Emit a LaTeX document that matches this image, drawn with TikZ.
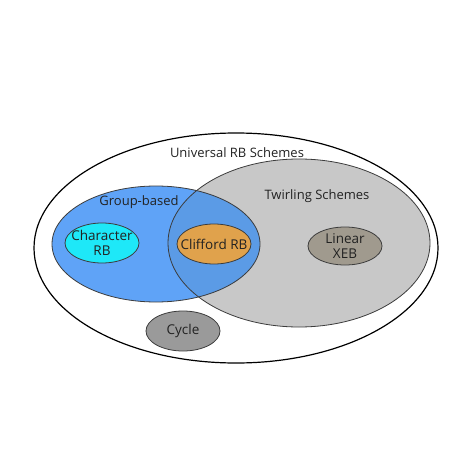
\documentclass[tikz,border=0pt]{standalone}
\usepackage{fontspec}
\setmainfont{Open Sans}
\usetikzlibrary{shapes.geometric}
\definecolor{groupblue}{HTML}{5FA3F7}
\definecolor{overlapblue}{HTML}{5B9BE6}
\definecolor{twirlgray}{HTML}{C8C8C8}
\definecolor{charcyan}{HTML}{1EE8F8}
\definecolor{cliffordorange}{HTML}{E0A24C}
\definecolor{xebtaupe}{HTML}{A09A8E}
\definecolor{cyclegray}{HTML}{9A9A9A}
\definecolor{edgegray}{HTML}{3C3C3C}
\definecolor{labeltext}{HTML}{222222}
\begin{document}
\begin{tikzpicture}[x=1pt,y=-1pt,font=\fontsize{13}{15}\selectfont,text=labeltext,
  setbox/.style={ellipse,inner sep=0pt,draw=edgegray,line width=.8pt},
  smallset/.style={setbox,minimum width=74pt,minimum height=40pt},
  every label/.style={align=center,font=\fontsize{13.5}{15}\selectfont,text=labeltext}]
\useasboundingbox (0,0) rectangle (457,457);
\node[ellipse,draw=black,line width=1.2pt,fill=white,minimum width=404pt,minimum height=230pt] (universal) at (236,248) {};
\node[ellipse,fill=twirlgray,minimum width=262pt,minimum height=168pt] (twirl) at (299,243) {};
\node[ellipse,fill=groupblue,minimum width=208pt,minimum height=116pt] (group) at (156,244) {};
\begin{scope}
  \clip (156,244) ellipse [x radius=104,y radius=58];
  \fill[overlapblue] (299,243) ellipse [x radius=131,y radius=84];
\end{scope}
\node[setbox,minimum width=262pt,minimum height=168pt] at (twirl) {};
\node[setbox,minimum width=208pt,minimum height=116pt] at (group) {};
% inner sets
\node[smallset,fill=charcyan,label=center:{Character\\RB}] (character) at (102,243) {};
\node[smallset,fill=cliffordorange,label=center:{Clifford RB}] (clifford) at (214,244) {};
\node[smallset,fill=xebtaupe,minimum height=38pt,label=center:{Linear\\XEB}] (xeb) at (345,246) {};
\node[smallset,fill=cyclegray,label=center:{Cycle}] (cycle) at (183,331) {};
% set labels
\node (universallabel) at (237,153) {Universal RB Schemes};
\node (twirllabel) at (317,196) {Twirling Schemes};
\node (grouplabel) at (139,202) {Group-based};
\end{tikzpicture}
\end{document}
